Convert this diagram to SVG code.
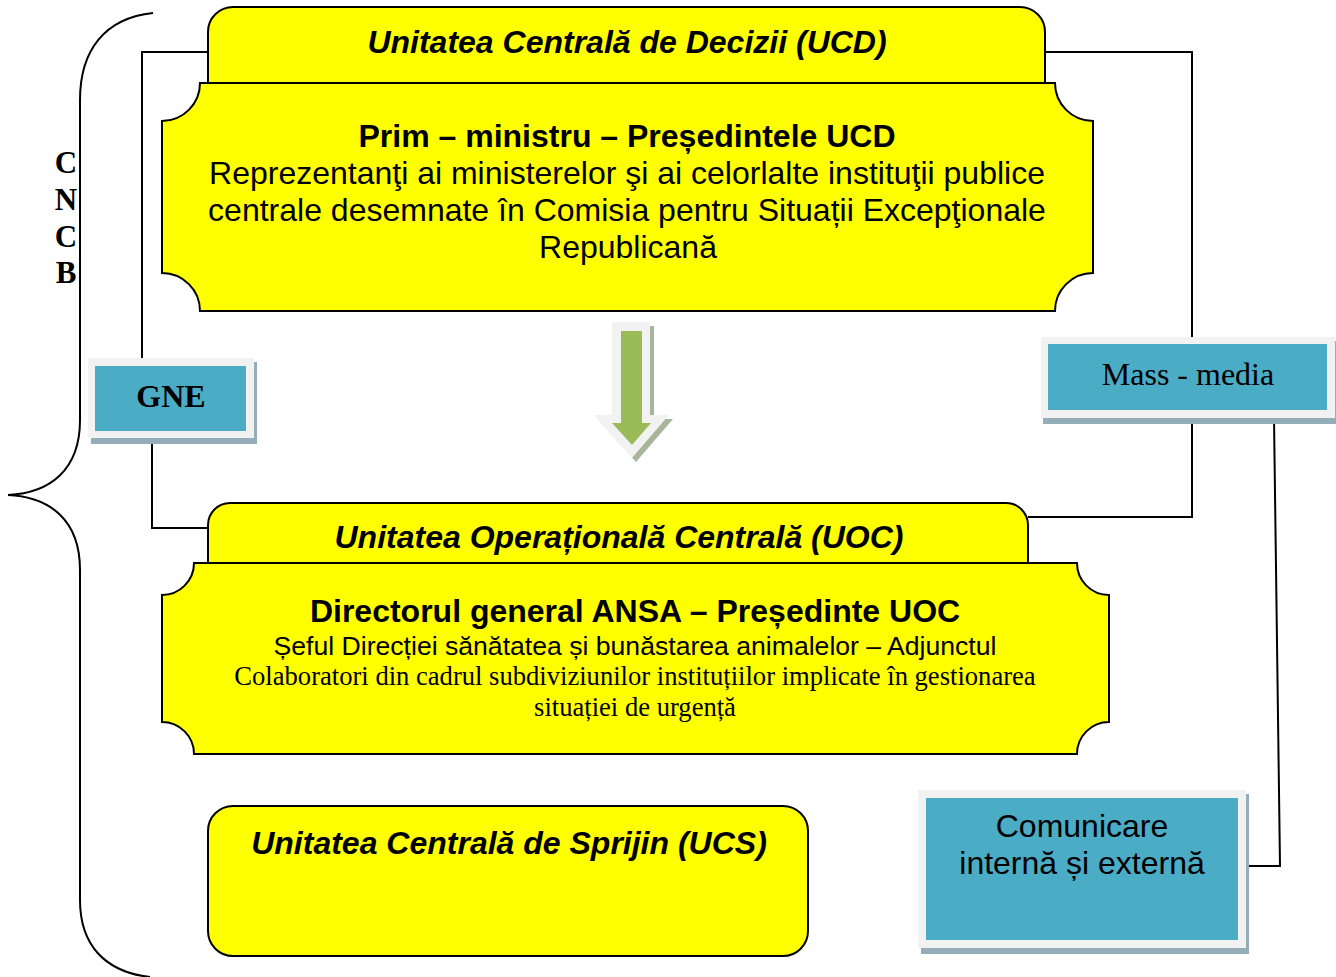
<svg xmlns="http://www.w3.org/2000/svg" width="1336" height="977" viewBox="0 0 1336 977">
<style>
.y{fill:#FFFF00;stroke:#000;stroke-width:2}
.ln{fill:none;stroke:#000;stroke-width:2}
.fr{fill:#F2F2F2}
.sh{fill:#93AEB9}
.bl{fill:#4BACC6}
.a{font-family:"Liberation Sans",Arial,sans-serif;fill:#000;text-anchor:middle}
.t{font-family:"Liberation Serif","Times New Roman",serif;fill:#000;text-anchor:middle}
.bi{font-weight:bold;font-style:italic}
.b{font-weight:bold}
</style>
<rect width="1336" height="977" fill="#fff"/>
<g id="connectors">
<polyline class="ln" points="208,52 142,52 142,362"/>
<polyline class="ln" points="1045,52 1192,52 1192,340"/>
<polyline class="ln" points="152,436 152,528 208,528"/>
<polyline class="ln" points="1028,517 1192,517 1192,418"/>
<polyline class="ln" points="1274,418 1280,866 1242,866"/>
</g>
<g id="brace">
<path class="ln" d="M153,13 C105,18 80,50 80,100 L80,420 C80,470 50,493 8,495 C50,497 80,520 80,570 L80,900 C80,945 105,972 150,977"/>
<text class="t b" x="66" y="173" font-size="31">C</text>
<text class="t b" x="66" y="210" font-size="31">N</text>
<text class="t b" x="66" y="247" font-size="31">C</text>
<text class="t b" x="66" y="283" font-size="31">B</text>
</g>
<g id="ucd">
<path class="y" d="M208,83 L208,32 A25,25 0 0 1 233,7 L1020,7 A25,25 0 0 1 1045,32 L1045,83"/>
<text class="a bi" x="627" y="53" font-size="32">Unitatea Centrală de Decizii (UCD)</text>
<path class="y" d="M200,83 L1055,83 A38,38 0 0 0 1093,121 L1093,273 A38,38 0 0 0 1055,311 L200,311 A38,38 0 0 0 162,273 L162,121 A38,38 0 0 0 200,83 Z"/>
<text class="a b" x="627" y="147" font-size="32">Prim – ministru – Președintele UCD</text>
<text class="a" x="627" y="184" font-size="32">Reprezentanţi ai ministerelor şi ai celorlalte instituţii publice</text>
<text class="a" x="627" y="221" font-size="32">centrale desemnate în Comisia pentru Situații Excepţionale</text>
<text class="a" x="628" y="258" font-size="32">Republicană</text>
</g>
<g id="arrow">
<path fill="#A7B59B" d="M616,326 L654,326 L654,419 L673,419 L636,462 L598,419 L616,419 Z"/>
<path class="fr" d="M612,322 L650,322 L650,415 L669,415 L632,458 L594,415 L612,415 Z"/>
<path fill="#9BBB59" d="M621,331 L642,331 L642,423 L651,423 L632,445 L612,423 L621,423 Z"/>
</g>
<g id="gne">
<rect class="sh" x="91" y="362" width="166" height="82"/>
<rect class="fr" x="88" y="358" width="166" height="80"/>
<rect class="bl" x="95" y="366" width="151" height="65"/>
<text class="t b" x="171" y="407" font-size="32">GNE</text>
</g>
<g id="mass-media">
<rect class="sh" x="1043" y="341" width="293" height="83"/>
<rect class="fr" x="1041" y="337" width="294" height="81"/>
<rect class="bl" x="1048" y="344" width="279" height="66"/>
<text class="t" x="1188" y="385" font-size="32">Mass - media</text>
</g>
<g id="uoc">
<path class="y" d="M208,563 L208,525 A22,22 0 0 1 230,503 L1006,503 A22,22 0 0 1 1028,525 L1028,563"/>
<text class="a bi" x="619" y="548" font-size="32">Unitatea Operațională Centrală (UOC)</text>
<path class="y" d="M194,563 L1077,563 A32,32 0 0 0 1109,595 L1109,722 A32,32 0 0 0 1077,754 L194,754 A32,32 0 0 0 162,722 L162,595 A32,32 0 0 0 194,563 Z"/>
<text class="a b" x="635" y="622" font-size="32">Directorul general ANSA – Președinte UOC</text>
<text class="a" x="635" y="655" font-size="26.6">Șeful Direcției sănătatea și bunăstarea animalelor – Adjunctul</text>
<text class="t" x="635" y="685" font-size="26.6">Colaboratori din cadrul subdiviziunilor instituțiilor implicate în gestionarea</text>
<text class="t" x="635" y="716" font-size="26.6">situației de urgență</text>
</g>
<g id="ucs">
<rect class="y" x="208" y="806" width="600" height="150" rx="25" ry="25"/>
<text class="a bi" x="509" y="854" font-size="32">Unitatea Centrală de Sprijin (UCS)</text>
</g>
<g id="comunicare">
<rect class="sh" x="921" y="794" width="328" height="160"/>
<rect class="fr" x="918" y="790" width="328" height="158"/>
<rect class="bl" x="926" y="798" width="312" height="142"/>
<text class="a" x="1082" y="837" font-size="32">Comunicare</text>
<text class="a" x="1082" y="874" font-size="32">internă și externă</text>
</g>
</svg>
